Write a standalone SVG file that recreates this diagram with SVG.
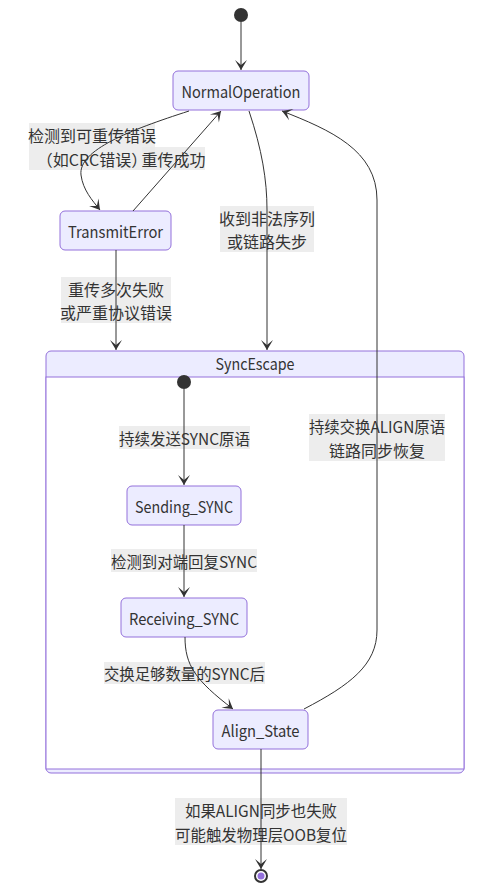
<svg xmlns="http://www.w3.org/2000/svg" width="494" height="891" viewBox="0 0 494 891">
<defs>
<style>
text{font-family:"Noto Sans CJK SC","Noto Sans",sans-serif;font-size:16px;fill:#333;text-anchor:middle;dominant-baseline:central}
.st{fill:#ECECFF;stroke:#9370DB;stroke-width:1}
.lbl{fill:#E8E8E8;fill-opacity:0.8}
.edge{fill:none;stroke:#333;stroke-width:1;marker-end:url(#arr)}
</style>
<marker id="arr" viewBox="0 0 20 14" refX="19" refY="7" markerWidth="20" markerHeight="14" markerUnits="userSpaceOnUse" orient="auto">
<path d="M19,7 L9,13 L14,7 L9,1 Z" fill="#333"/>
</marker>
</defs>
<rect width="494" height="891" fill="#fff"/>

<g id="SyncEscape">
<rect x="46" y="351" width="418" height="422" rx="5" class="st"/>
<rect x="46" y="377" width="418" height="392" fill="#fff" stroke="#9370DB" stroke-width="1"/>
<text x="255" y="363" textLength="79" lengthAdjust="spacingAndGlyphs">SyncEscape</text>
</g>

<g id="start"><circle cx="241" cy="15" r="7" fill="#333"/></g>
<g id="NormalOperation"><rect x="173" y="71" width="136" height="39" rx="5" class="st"/><text x="241" y="91" textLength="119" lengthAdjust="spacingAndGlyphs">NormalOperation</text></g>
<g id="TransmitError"><rect x="60" y="211" width="111" height="39" rx="5" class="st"/><text x="115.5" y="231" textLength="95" lengthAdjust="spacingAndGlyphs">TransmitError</text></g>
<g id="inner_start"><circle cx="184" cy="382" r="7" fill="#333"/></g>
<g id="Sending_SYNC"><rect x="127" y="486" width="114" height="39" rx="5" class="st"/><text x="184" y="506" textLength="98" lengthAdjust="spacingAndGlyphs">Sending_SYNC</text></g>
<g id="Receiving_SYNC"><rect x="121" y="598" width="126" height="39" rx="5" class="st"/><text x="184" y="618" textLength="110" lengthAdjust="spacingAndGlyphs">Receiving_SYNC</text></g>
<g id="Align_State"><rect x="213" y="710" width="95" height="39" rx="5" class="st"/><text x="260.5" y="730" textLength="78" lengthAdjust="spacingAndGlyphs">Align_State</text></g>
<g id="end"><circle cx="261" cy="876" r="6" fill="#fff" stroke="#333" stroke-width="2"/><circle cx="261" cy="876" r="3.5" fill="#9370DB"/></g>

<g id="edge-labels">
<rect x="29" y="123" width="126" height="47" class="lbl"/>
<text x="92" y="134.5">检测到可重传错误</text>
<text x="92" y="158.5">（如CRC错误）</text>
<rect x="142" y="147" width="63" height="23" class="lbl"/>
<text x="173.5" y="158.5">重传成功</text>
<rect x="220" y="206" width="94" height="46" class="lbl"/>
<text x="267" y="217.5">收到非法序列</text>
<text x="267" y="240.5">或链路失步</text>
<rect x="61" y="277" width="110" height="46" class="lbl"/>
<text x="116" y="288.5">重传多次失败</text>
<text x="116" y="311.5">或严重协议错误</text>
<rect x="309" y="414" width="136" height="47" class="lbl"/>
<text x="377" y="425.5" textLength="136" lengthAdjust="spacingAndGlyphs">持续交换ALIGN原语</text>
<text x="377" y="449.5">链路同步恢复</text>
<rect x="119" y="426" width="131" height="23" class="lbl"/>
<text x="184.5" y="437.5" textLength="131" lengthAdjust="spacingAndGlyphs">持续发送SYNC原语</text>
<rect x="111" y="549" width="146" height="23" class="lbl"/>
<text x="184" y="560.5" textLength="146" lengthAdjust="spacingAndGlyphs">检测到对端回复SYNC</text>
<rect x="104" y="662" width="161" height="22" class="lbl"/>
<text x="184.5" y="673" textLength="161" lengthAdjust="spacingAndGlyphs">交换足够数量的SYNC后</text>
<rect x="175" y="798" width="172" height="47" class="lbl"/>
<text x="261" y="809.5" textLength="152" lengthAdjust="spacingAndGlyphs">如果ALIGN同步也失败</text>
<text x="261" y="833.5" textLength="172" lengthAdjust="spacingAndGlyphs">可能触发物理层OOB复位</text>
</g>

<g id="connectors">
<path class="edge" d="M241,22 L241,70"/>
<path class="edge" d="M189,111 C130,130 78,150 81,175 C83,190 92,200 100,210"/>
<path class="edge" d="M133,211 L221,111"/>
<path class="edge" d="M249,111 C262,150 267,180 267,210 L267,350"/>
<path class="edge" d="M304,709 C350,685 377,665 377,630 L377,200 C377,150 330,130 282,111"/>
<path class="edge" d="M116,250 L116,350"/>
<path class="edge" d="M184,389 L184,485"/>
<path class="edge" d="M184,525 L184,597"/>
<path class="edge" d="M185,637 C185,665 195,680 233,709"/>
<path class="edge" d="M261,749 L261,869"/>
</g>
</svg>
